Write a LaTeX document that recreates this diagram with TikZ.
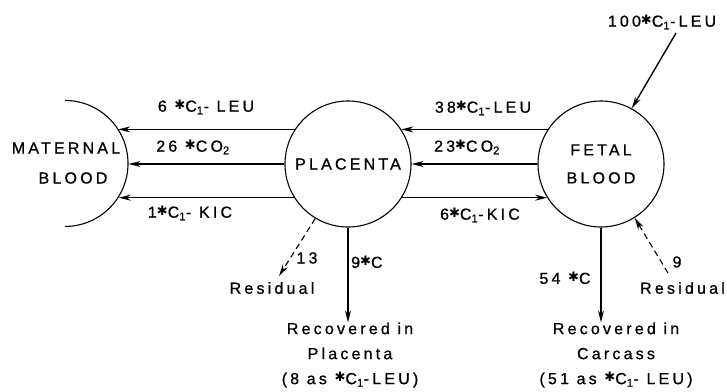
\documentclass[tikz,border=0pt]{standalone}
\usepackage{fontspec}
\setmainfont{Liberation Sans}
\newfontfamily\lsfont[LetterSpace=20,FakeBold=0.8]{Liberation Sans}
\newfontfamily\djfont{DejaVu Sans}
\usetikzlibrary{arrows.meta}
\newcommand\myast{\raisebox{2.5pt}{\djfont\fontsize{13}{13}\selectfont ✱}}
\newcommand\cone{C\textsubscript{1}}
\begin{document}
\begin{tikzpicture}[x=1pt,y=-1pt,
  every node/.style={font=\lsfont\fontsize{16}{25}\selectfont, inner sep=0pt, align=center},
  pool/.style={circle, draw, line width=1.1pt, minimum size=126pt, inner sep=0pt, align=center, font=\lsfont\fontsize{16}{28}\selectfont},
  big/.style={font=\lsfont\fontsize{16}{28}\selectfont},
  flow/.style={line width=1.4pt, -{Stealth[length=12pt,width=6pt]}},
  co/.style={line width=1.1pt, -{Stealth[length=12pt,width=6pt]}},
  resid/.style={line width=1.1pt, dash pattern=on 6pt off 4pt, -{Stealth[length=12pt,width=6pt]}}]
\useasboundingbox (0,0) rectangle (727,391);
% pools
\node[pool, draw=none] (mat) at (65,164) {};
\draw[line width=1.1pt] (mat.north) arc[start angle=90, end angle=-90, radius=63pt];
\node[big] (mat1) at (66,148) {MATERNAL};
\node[big] (mat2) at (73,178) {BLOOD};
\node[pool] (pl) at (348,164) {PLACENTA};
\node[pool] (fe) at (601,164) {FETAL\\BLOOD};
% exchanges placenta -> maternal
\draw[flow] (pl.147) -- (mat.33);
\draw[co] (pl.west) -- (mat.east);
\draw[flow] (pl.212) -- (mat.-32);
\node (l1) at (206,107) {6 \myast\cone- LEU};
\node (l2) at (193,147) {26 \myast CO\textsubscript{2}};
\node (l3) at (190,213) {1\myast\cone- KIC};
% exchanges fetal <-> placenta
\draw[flow] (fe.147) -- (pl.33);
\draw[co] (fe.west) -- (pl.east);
\draw[flow] (pl.-32) -- (fe.212);
\node (l4) at (483,108) {38\myast\cone-LEU};
\node (l5) at (467,147) {23\myast CO\textsubscript{2}};
\node (l6) at (480,215) {6\myast\cone-KIC};
% infusion
\node (inf) at (662,22) {100\myast\cone-LEU};
\coordinate (infs) at (676,33);
\draw[flow] (infs) -- (fe.61);
% placenta outputs
\node (recP) at (350,355) {Recovered in\\Placenta\\(8 as \myast\cone-LEU)};
\draw[flow] (pl.south) -- (pl.south |- recP.north);
\node[anchor=west] (c9) at (351,262) {9\myast C};
\node (resP) at (272,288) {Residual};
\node (n13) at (307,258) {13};
\coordinate (resPt) at (279,276);
\draw[resid] (pl.-121) -- (resPt);
% fetal outputs
\node (recC) at (616,355) {Recovered in\\Carcass\\(51 as \myast\cone- LEU)};
\draw[flow] (fe.south) -- (fe.south |- recC.north);
\node (c54) at (565,278) {54 \myast C};
\node[anchor=east] (resF) at (725,288) {Residual};
\node (n9) at (677,262) {9};
\coordinate (resFt) at (668,273);
\draw[resid] (resFt) -- (fe.-58);
\end{tikzpicture}
\end{document}
